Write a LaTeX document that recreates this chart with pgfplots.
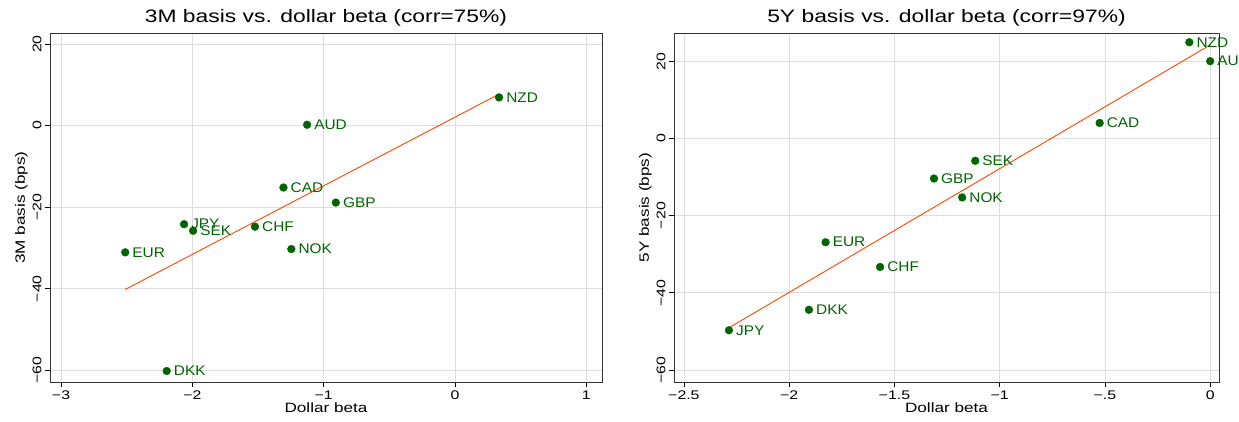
\documentclass[border=0pt]{standalone}
\usepackage{fontspec}
\setmainfont{Liberation Sans}
\newfontfamily\widesans[FakeStretch=1.27]{Liberation Sans}
\newfontfamily\ptsans[FakeStretch=1.1]{Liberation Sans}
\usepackage{pgfplots}
\pgfplotsset{compat=1.18}
\usepackage{pgfplotstable}

\definecolor{ptgreen}{RGB}{0,100,0}
\definecolor{fitred}{RGB}{255,69,0}
\definecolor{gridgray}{RGB}{222,222,222}

% 3M basis vs dollar beta
\pgfplotstableread{
x y lab
0.336 6.9 NZD
-1.126 0.2 AUD
-1.306 -15.2 CAD
-0.907 -18.9 GBP
-2.063 -24.2 JPY
-1.994 -25.8 SEK
-1.523 -24.8 CHF
-1.246 -30.3 NOK
-2.511 -31.1 EUR
-2.195 -60.2 DKK
}\threem

% 5Y basis vs dollar beta
\pgfplotstableread{
x y lab
-0.099 24.9 NZD
0.000 20.0 AUD
-0.525 4.0 CAD
-1.116 -5.8 SEK
-1.312 -10.4 GBP
-1.178 -15.3 NOK
-1.827 -26.9 EUR
-1.568 -33.3 CHF
-1.906 -44.4 DKK
-2.286 -49.7 JPY
}\fivey

\pgfplotsset{
  basis/.style={
    scale only axis,
    anchor=south west,
    height=349pt,
    clip=false,
    axis line style={black!80, line width=0.9pt},
    tick align=outside,
    xtick pos=bottom, ytick pos=left,
    major tick length=5pt,
    tick style={black, line width=0.7pt},
    grid=major,
    major grid style={gridgray, line width=0.8pt},
    ticklabel style={font=\widesans\fontsize{12.5}{14}\selectfont},
    yticklabel style={rotate=90, anchor=south},
    label style={font=\widesans\fontsize{13.5}{15}\selectfont},
    title style={font=\widesans\fontsize{18}{21}\selectfont, yshift=-3pt},
    ytick={-60,-40,-20,0,20},
    yticklabels={−60,−40,−20,0,20},
    xlabel={Dollar beta},
    xlabel style={yshift=4pt},
    ylabel style={yshift=-2pt},
  },
  pts/.style={
    only marks, mark=*, mark size=3.9pt, color=ptgreen,
    nodes near coords, point meta=explicit symbolic,
    nodes near coords style={anchor=west, inner sep=1pt, xshift=6pt,
      text=ptgreen, font=\ptsans\fontsize{14}{16}\selectfont},
  },
}

\begin{document}
\begin{tikzpicture}[x=1pt,y=1pt]
\begin{axis}[basis,
  at={(50pt,39pt)}, width=552pt,
  xmin=-3.084, xmax=1.12, ymin=-62.9, ymax=22.7,
  xtick={-3,-2,-1,0,1},
  xticklabels={−3,−2,−1,0,1},
  ylabel={3M basis (bps)},
  title={3M basis vs. dollar beta (corr=75\%)},
]
\addplot[fitred, line width=0.9pt] coordinates {(-2.511,-40.2) (0.336,7.7)};
\addplot[pts] table[x=x, y=y, meta=lab] {\threem};
\end{axis}

\begin{axis}[basis,
  at={(674pt,39pt)}, width=545pt,
  xmin=-2.547, xmax=0.042, ymin=-63.1, ymax=27.3,
  xtick={-2.5,-2,-1.5,-1,-0.5,0},
  xticklabels={−2.5,−2,−1.5,−1,−.5,0},
  ylabel={5Y basis (bps)},
  title={5Y basis vs. dollar beta (corr=97\%)},
]
\addplot[fitred, line width=0.9pt] coordinates {(-2.278,-48.8) (0,24.2)};
\addplot[pts] table[x=x, y=y, meta=lab] {\fivey};
\end{axis}

\pgfresetboundingbox
\path (0,0) rectangle (1239,421);
\end{tikzpicture}
\end{document}
